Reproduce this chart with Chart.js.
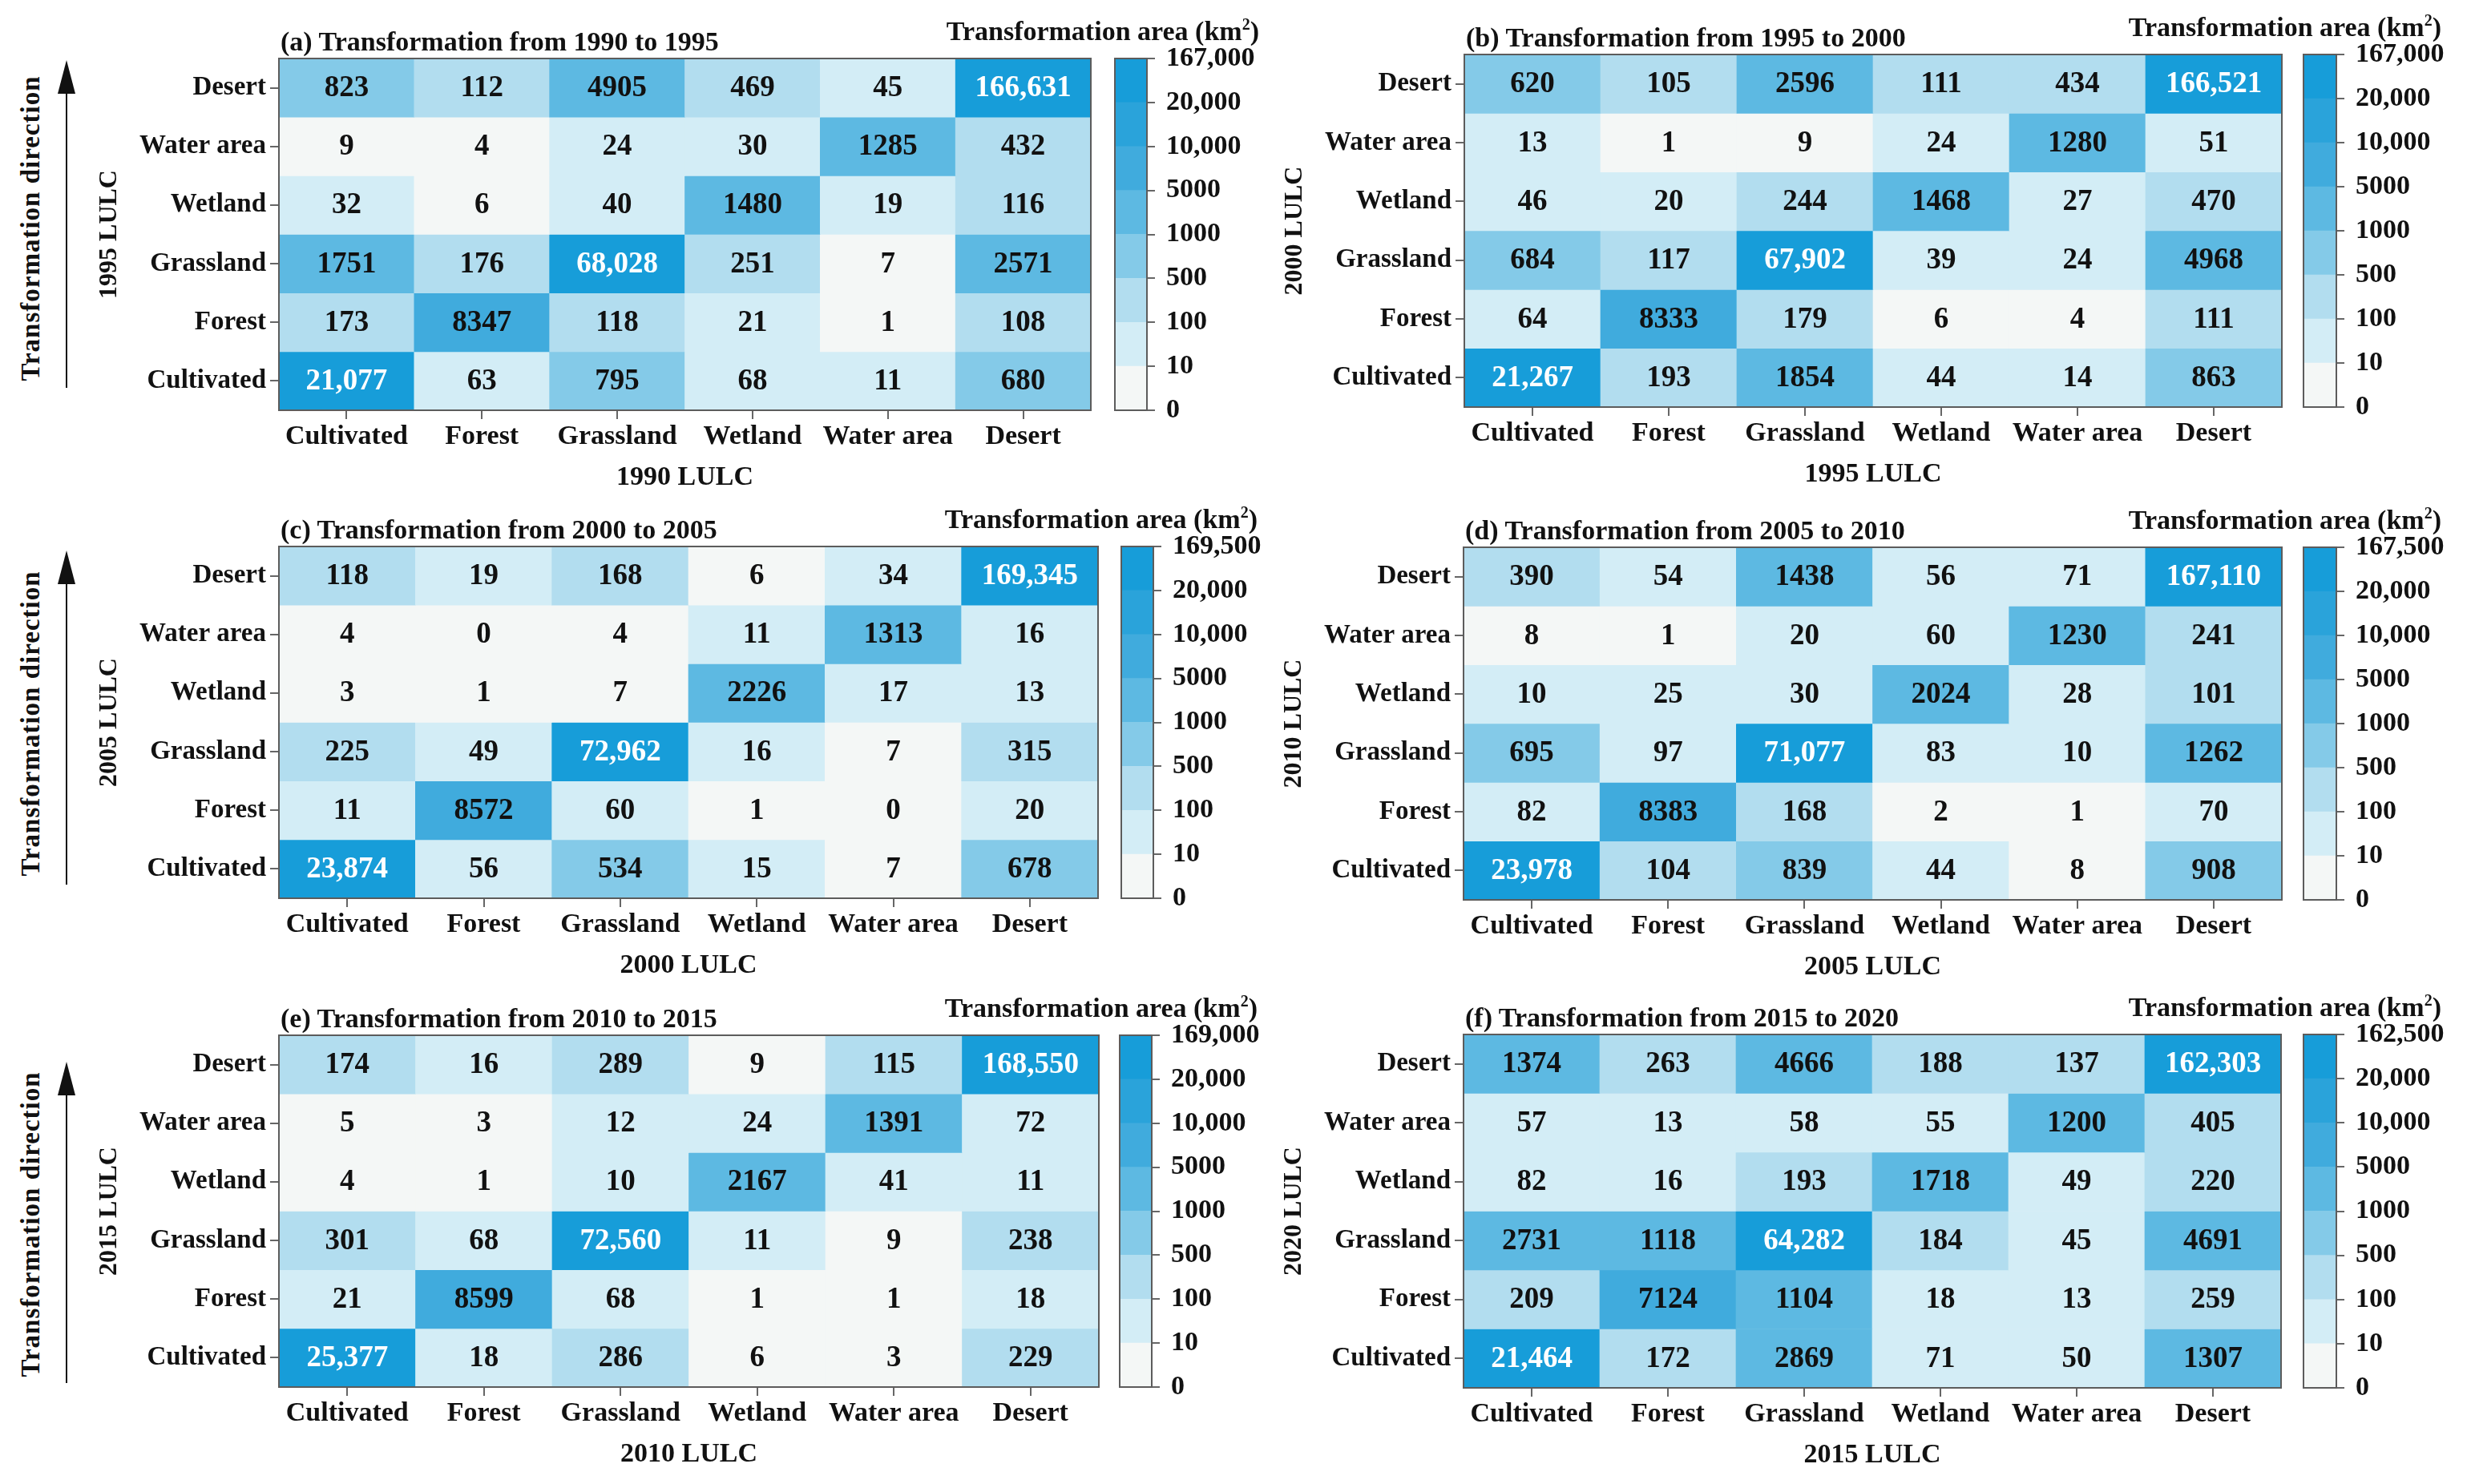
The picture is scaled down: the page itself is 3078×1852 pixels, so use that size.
<!DOCTYPE html>
<html>
<head>
<meta charset="utf-8">
<script src="https://cdn.jsdelivr.net/npm/chart.js@4.4.1/dist/chart.umd.min.js"></script>
<style>
  html, body { margin: 0; padding: 0; background: #fff; }
  #page { position: relative; width: 3078px; height: 1852px; overflow: hidden; background: #fff;
          font-family: "Liberation Serif", "Times New Roman", serif; font-weight: bold; color: #111; }
  canvas { position: absolute; }
  .ptitle { position: absolute; font-size: 34px; line-height: 40px; white-space: nowrap; }
  .cbtitle { position: absolute; font-size: 34px; line-height: 40px; white-space: nowrap; transform: translateX(-100%); }
  .cbtitle sup { font-size: 20px; vertical-align: 13px; line-height: 0; }
  .dir { position: absolute; font-size: 33px; line-height: 40px; white-space: nowrap; letter-spacing: 1px;
         transform: translate(-50%, -50%) rotate(-90deg); }
  .arrowLine { position: absolute; width: 2px; background: #111; }
  .arrowHead { position: absolute; width: 0; height: 0; border-left: 11px solid transparent;
               border-right: 11px solid transparent; border-bottom: 42px solid #111; }
</style>
</head>
<body>
<div id="page"></div>
<script>
// classes: columns are the earlier year, rows (top to bottom) the later year
const fromClasses = ["Cultivated", "Forest", "Grassland", "Wetland", "Water area", "Desert"];
const toClasses = ["Desert", "Water area", "Wetland", "Grassland", "Forest", "Cultivated"];

// colour classes of the legend
const colorBreaks = [10, 100, 500, 1000, 5000, 10000, 20000];
const bandColors = ["#f4f7f6", "#d3edf6", "#b2ddef", "#84cae8", "#5db9e2", "#40abdd", "#2aa3da", "#179dd9"];
const colorbarLabels = ["0", "10", "100", "500", "1000", "5000", "10,000", "20,000"];

// transformation areas (km2), rows follow toClasses
const values1990to1995 = [
  [823, 112, 4905, 469, 45, 166631],
  [9, 4, 24, 30, 1285, 432],
  [32, 6, 40, 1480, 19, 116],
  [1751, 176, 68028, 251, 7, 2571],
  [173, 8347, 118, 21, 1, 108],
  [21077, 63, 795, 68, 11, 680]
];
const values1995to2000 = [
  [620, 105, 2596, 111, 434, 166521],
  [13, 1, 9, 24, 1280, 51],
  [46, 20, 244, 1468, 27, 470],
  [684, 117, 67902, 39, 24, 4968],
  [64, 8333, 179, 6, 4, 111],
  [21267, 193, 1854, 44, 14, 863]
];
const values2000to2005 = [
  [118, 19, 168, 6, 34, 169345],
  [4, 0, 4, 11, 1313, 16],
  [3, 1, 7, 2226, 17, 13],
  [225, 49, 72962, 16, 7, 315],
  [11, 8572, 60, 1, 0, 20],
  [23874, 56, 534, 15, 7, 678]
];
const values2005to2010 = [
  [390, 54, 1438, 56, 71, 167110],
  [8, 1, 20, 60, 1230, 241],
  [10, 25, 30, 2024, 28, 101],
  [695, 97, 71077, 83, 10, 1262],
  [82, 8383, 168, 2, 1, 70],
  [23978, 104, 839, 44, 8, 908]
];
const values2010to2015 = [
  [174, 16, 289, 9, 115, 168550],
  [5, 3, 12, 24, 1391, 72],
  [4, 1, 10, 2167, 41, 11],
  [301, 68, 72560, 11, 9, 238],
  [21, 8599, 68, 1, 1, 18],
  [25377, 18, 286, 6, 3, 229]
];
const values2015to2020 = [
  [1374, 263, 4666, 188, 137, 162303],
  [57, 13, 58, 55, 1200, 405],
  [82, 16, 193, 1718, 49, 220],
  [2731, 1118, 64282, 184, 45, 4691],
  [209, 7124, 1104, 18, 13, 259],
  [21464, 172, 2869, 71, 50, 1307]
];

const panelTitles = ["(a) Transformation from 1990 to 1995", "(b) Transformation from 1995 to 2000",
  "(c) Transformation from 2000 to 2005", "(d) Transformation from 2005 to 2010",
  "(e) Transformation from 2010 to 2015", "(f) Transformation from 2015 to 2020"];
const xTitles = ["1990 LULC", "1995 LULC", "2000 LULC", "2005 LULC", "2010 LULC", "2015 LULC"];
const yTitles = ["1995 LULC", "2000 LULC", "2005 LULC", "2010 LULC", "2015 LULC", "2020 LULC"];
const colorbarMax = ["167,000", "167,000", "169,500", "167,500", "169,000", "162,500"];
const panelValues = [values1990to1995, values1995to2000, values2000to2005,
  values2005to2010, values2010to2015, values2015to2020];

// page layout of each panel (pixels)
const panelBoxes = [
  { l: 348, r: 1361, t: 73, b: 512, cbL: 1391, cbR: 1431, cbTitleR: 1571, arrow: [75, 484], dirY: 285 },
  { l: 1827, r: 2847, t: 68, b: 508, cbL: 2874, cbR: 2915, cbTitleR: 3046 },
  { l: 348, r: 1370, t: 682, b: 1121, cbL: 1399, cbR: 1439, cbTitleR: 1569, arrow: [687, 1104], dirY: 903 },
  { l: 1826, r: 2847, t: 683, b: 1123, cbL: 2874, cbR: 2915, cbTitleR: 3046 },
  { l: 348, r: 1371, t: 1292, b: 1731, cbL: 1397, cbR: 1437, cbTitleR: 1569, arrow: [1325, 1726], dirY: 1528 },
  { l: 1826, r: 2846, t: 1291, b: 1732, cbL: 2874, cbR: 2915, cbTitleR: 3046 }
];

const FONT = '"Liberation Serif", "Times New Roman", serif';
const INK = "#111";
const AXIS = "#666";
Chart.defaults.font.family = FONT;
Chart.defaults.font.weight = "bold";
Chart.defaults.color = INK;

const page = document.getElementById("page");

function band(v) {
  let i = 0;
  while (i < colorBreaks.length && v >= colorBreaks[i]) i++;
  return i;
}
function fmt(v) {
  return v >= 10000 ? v.toLocaleString("en-US") : String(v);
}
function makeCanvas(x, y, w, h) {
  const cv = document.createElement("canvas");
  cv.width = w;
  cv.height = h;
  cv.style.left = x + "px";
  cv.style.top = y + "px";
  cv.style.width = w + "px";
  cv.style.height = h + "px";
  page.appendChild(cv);
  return cv;
}
function addDiv(cls, x, y, html) {
  const d = document.createElement("div");
  d.className = cls;
  d.style.left = x + "px";
  d.style.top = y + "px";
  d.innerHTML = html;
  page.appendChild(d);
  return d;
}

// box round the plot area
const frame = {
  id: "frame",
  afterDraw(chart) {
    const a = chart.chartArea;
    const ctx = chart.ctx;
    ctx.save();
    ctx.strokeStyle = "#5c5c5c";
    ctx.lineWidth = 2;
    ctx.strokeRect(a.left, a.top, a.right - a.left, a.bottom - a.top);
    ctx.restore();
  }
};

// numbers written in the cells
const cellText = {
  id: "cellText",
  afterDatasetsDraw(chart, args, opts) {
    const ctx = chart.ctx;
    ctx.save();
    ctx.font = "bold 37px " + FONT;
    ctx.textAlign = "center";
    ctx.textBaseline = "middle";
    chart.data.datasets.forEach((ds, r) => {
      chart.getDatasetMeta(r).data.forEach((bar, c) => {
        const v = opts.values[r][c];
        ctx.fillStyle = band(v) >= 7 ? "#ffffff" : INK;
        ctx.fillText(fmt(v), bar.x, (bar.y + bar.base) / 2 + 1);
      });
    });
    ctx.restore();
  }
};

function drawHeatmap(i) {
  const box = panelBoxes[i];
  const values = panelValues[i];
  const yW = 240, xH = 115, padT = 30, padR = 10;
  const L = box.l - yW, T = box.t - padT;
  const cv = makeCanvas(L, T, box.r + padR - L, box.b + xH - T);
  const n = toClasses.length;

  const datasets = toClasses.map((name, r) => {
    const level = n - 1 - r;
    return {
      label: name,
      data: fromClasses.map(() => [level, level + 1]),
      backgroundColor: ctx => bandColors[band(values[r][ctx.dataIndex])],
      borderWidth: 0,
      barPercentage: 1,
      categoryPercentage: 1,
      grouped: false
    };
  });

  new Chart(cv, {
    type: "bar",
    data: { labels: fromClasses, datasets: datasets },
    options: {
      responsive: false,
      animation: false,
      devicePixelRatio: 1,
      layout: { padding: { top: padT, right: padR, left: 0, bottom: 0 } },
      plugins: {
        legend: { display: false },
        tooltip: { enabled: false },
        cellText: { values: values }
      },
      scales: {
        x: {
          offset: true,
          grid: { offset: false, drawOnChartArea: false, tickLength: 11, color: AXIS, lineWidth: 2 },
          border: { display: false },
          ticks: { padding: 2, color: INK, font: { size: 34 }, maxRotation: 0, minRotation: 0, autoSkip: false },
          title: { display: true, text: xTitles[i], color: INK, font: { size: 34 }, padding: { top: 0, bottom: 10 } },
          afterFit: s => { s.height = xH; }
        },
        y: {
          min: 0,
          max: n,
          grid: { drawOnChartArea: false, tickLength: 11, color: AXIS, lineWidth: 2 },
          border: { display: false },
          afterBuildTicks: s => { s.ticks = toClasses.map((_, k) => ({ value: k + 0.5 })); },
          ticks: { padding: 5, color: INK, font: { size: 33 }, autoSkip: false,
                   callback: (v, k) => toClasses[n - 1 - k] },
          title: { display: true, text: yTitles[i], color: INK, font: { size: 32 }, padding: { top: 10, bottom: 0 } },
          afterFit: s => { s.width = yW; }
        }
      }
    },
    plugins: [cellText, frame]
  });
}

function drawColorbar(i) {
  const box = panelBoxes[i];
  const pad = 40, padL = 10, axisW = 200;
  const L = box.cbL - padL, T = box.t - pad;
  const cv = makeCanvas(L, T, padL + (box.cbR - box.cbL) + axisW, box.b - box.t + 2 * pad);
  const labels = colorbarLabels.concat([colorbarMax[i]]);

  const datasets = bandColors.map((c, k) => ({
    data: [[k, k + 1]],
    backgroundColor: c,
    borderWidth: 0,
    barPercentage: 1,
    categoryPercentage: 1,
    grouped: false
  }));

  new Chart(cv, {
    type: "bar",
    data: { labels: [""], datasets: datasets },
    options: {
      responsive: false,
      animation: false,
      devicePixelRatio: 1,
      layout: { padding: { top: pad, bottom: pad, left: padL, right: 0 } },
      plugins: { legend: { display: false }, tooltip: { enabled: false } },
      scales: {
        x: { display: false },
        y: {
          position: "right",
          min: 0,
          max: bandColors.length,
          grid: { drawOnChartArea: false, tickLength: 10, color: AXIS, lineWidth: 2 },
          border: { display: false },
          afterBuildTicks: s => { s.ticks = labels.map((_, k) => ({ value: k })); },
          ticks: { padding: 14, color: INK, font: { size: 34 }, autoSkip: false, callback: (v, k) => labels[k] },
          afterFit: s => { s.width = axisW; }
        }
      }
    },
    plugins: [frame]
  });
}

function drawTexts(i) {
  const box = panelBoxes[i];
  addDiv("ptitle", box.l + 2, box.t - 21 - 20, panelTitles[i]);
  addDiv("cbtitle", box.cbTitleR, box.t - 34 - 20, "Transformation area (km<sup>2</sup>)");
  if (box.arrow) {
    const [tip, end] = box.arrow;
    addDiv("dir", 38, box.dirY, "Transformation direction");
    const line = addDiv("arrowLine", 82, tip + 30, "");
    line.style.height = (end - tip - 30) + "px";
    addDiv("arrowHead", 72, tip, "");
  }
}

for (let i = 0; i < panelBoxes.length; i++) {
  drawHeatmap(i);
  drawColorbar(i);
  drawTexts(i);
}
</script>
</body>
</html>
